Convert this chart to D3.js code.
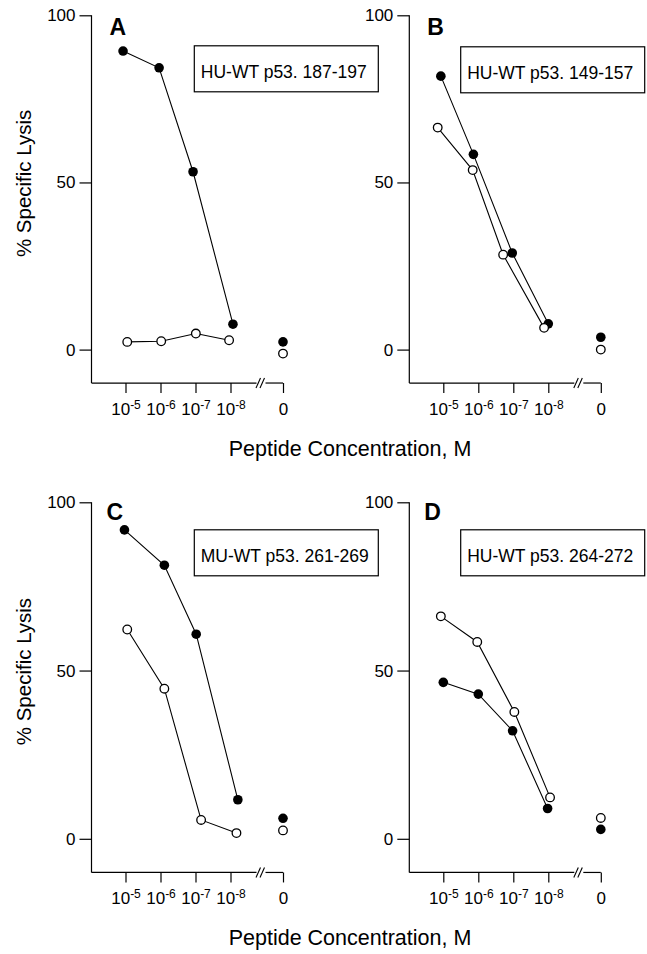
<!DOCTYPE html>
<html>
<head>
<meta charset="utf-8">
<script src="https://cdn.jsdelivr.net/npm/d3@7"></script>
<style>
  html, body { margin: 0; padding: 0; background: #fff; }
  svg { display: block; }
  text { font-family: "Liberation Sans", Arial, Helvetica, sans-serif; fill: #000; }
</style>
</head>
<body>
<svg id="chart" width="647" height="954"></svg>
<script>
// ---------------- DATA ----------------
const panelLetters = ["A", "B", "C", "D"];
const peptideNames = ["HU-WT p53. 187-197", "HU-WT p53. 149-157", "MU-WT p53. 261-269", "HU-WT p53. 264-272"];
const concExponents = [-5, -6, -7, -8];          // tick values: log10 peptide concentration (M)
const tickExpLabels = ["-5", "-6", "-7", "-8"];
const zeroLabel = "0";
const yTicks = [0, 50, 100];

// plotted log10 concentration of each point and % specific lysis
const filledX = [[-4.93, -5.96, -6.93, -8.07], [-4.93, -5.86, -6.97, -8.00], [-4.97, -6.11, -7.02, -8.21], [-5.00, -6.00, -6.98, -7.98]];
const filledY = [[89.3, 84.3, 53.2, 7.6], [81.8, 58.4, 28.9, 7.7], [91.8, 81.3, 60.8, 11.6], [46.5, 43.0, 32.1, 9.0]];
const openX   = [[-5.05, -6.02, -7.01, -7.96], [-4.84, -5.84, -6.71, -7.88], [-5.05, -6.11, -7.16, -8.17], [-4.93, -5.97, -7.03, -8.05]];
const openY   = [[2.3, 2.5, 4.8, 2.8], [66.4, 53.7, 28.4, 6.5], [62.2, 44.6, 5.6, 1.7], [66.1, 58.5, 37.7, 12.3]];
// no-peptide control ("0")
const filledZero = [2.3, 3.7, 6.1, 2.8];
const openZero   = [-1.2, 0.0, 2.5, 6.2];

const xTitle = "Peptide Concentration, M";
const yTitle = "% Specific Lysis";

// ---------------- LAYOUT ----------------
const ZERO_POS = -9.5;          // axis position of the "0" (no peptide) category after the break
const cols = [91.5, 409.3];     // y-axis x position of each column
const rows = [{top: 15.3, zero: 349.6}, {top: 502.3, zero: 838.8}];
const boxOffset = [102.8, 51.4, 102.8, 51.4];  // legend box left relative to y-axis
const boxW = 184, boxH = 46;
const R = 4.8;

const svg = d3.select("#chart");
const FONT = '"Liberation Sans", Arial, Helvetica, sans-serif';

panelLetters.forEach((letter, i) => {
  const col = i % 2, row = Math.floor(i / 2);
  const ox = cols[col];
  const rr = rows[row];
  const y = d3.scaleLinear().domain([0, 100]).range([rr.zero, rr.top]);
  const x = d3.scaleLinear().domain([-5, -8]).range([ox + 34, ox + 139]);
  const bottom = y(-10);
  const g = svg.append("g");

  // y axis
  const ya = g.append("g").attr("transform", `translate(${ox},0)`)
    .call(d3.axisLeft(y).tickValues(yTicks).tickSize(12).tickSizeOuter(0).tickPadding(4));
  ya.select(".domain").remove();
  ya.selectAll(".tick line").attr("stroke", "#000").attr("stroke-width", 1.2);
  ya.selectAll(".tick text").attr("font-family", FONT).attr("font-size", 17).attr("fill", "#000");
  g.append("line").attr("x1", ox).attr("x2", ox).attr("y1", y(100)).attr("y2", bottom)
    .attr("stroke", "#000").attr("stroke-width", 1.2);

  // x axis
  const xa = g.append("g").attr("transform", `translate(0,${bottom})`)
    .call(d3.axisBottom(x).tickValues(concExponents.concat([ZERO_POS])).tickSize(10).tickSizeOuter(0).tickPadding(8));
  xa.select(".domain").remove();
  xa.selectAll(".tick line").attr("stroke", "#000").attr("stroke-width", 1.2);
  xa.selectAll(".tick text").each(function(d) {
    const t = d3.select(this).text(null)
      .attr("font-family", FONT).attr("font-size", 17).attr("fill", "#000")
      .attr("dy", null).attr("y", 32);
    if (d === ZERO_POS) {
      t.text(zeroLabel);
    } else {
      t.append("tspan").text("10");
      t.append("tspan").attr("font-size", 12).attr("dy", -6).text(tickExpLabels[concExponents.indexOf(d)]);
    }
  });
  // axis line with break
  const brk = ox + 170;
  const xEnd = x(ZERO_POS);
  g.append("line").attr("x1", ox).attr("x2", brk - 5).attr("y1", bottom).attr("y2", bottom)
    .attr("stroke", "#000").attr("stroke-width", 1.2);
  g.append("line").attr("x1", brk + 4).attr("x2", xEnd).attr("y1", bottom).attr("y2", bottom)
    .attr("stroke", "#000").attr("stroke-width", 1.2);
  [-4, 0].forEach(dx => {
    g.append("line").attr("x1", brk + dx - 1.5).attr("x2", brk + dx + 3).attr("y1", bottom + 5).attr("y2", bottom - 5)
      .attr("stroke", "#000").attr("stroke-width", 1.1);
  });

  // panel letter
  g.append("text").attr("x", ox + (row === 0 ? 18 : 15)).attr("y", row === 0 ? y(100) + 20 : y(100) + 18)
    .attr("font-size", 23).attr("font-weight", "bold").text(letter);

  // legend box
  const bx = ox + boxOffset[i], by = y(100) + 30.5 + (col === 1 && row === 0 ? 1 : 0) + (row === 1 ? -3 : 0);
  g.append("rect").attr("x", bx).attr("y", by).attr("width", boxW).attr("height", boxH)
    .attr("fill", "#fff").attr("stroke", "#000").attr("stroke-width", 1.2);
  g.append("text").attr("x", bx + 6.5).attr("y", by + 32).attr("font-size", 17.5).text(peptideNames[i]);

  // y title (left column only)
  if (col === 0) {
    g.append("text").attr("transform", `translate(31,${y(50) + 1}) rotate(-90)`)
      .attr("text-anchor", "middle").attr("font-size", 20.5).text(yTitle);
  }

  // series
  const line = d3.line().x(d => x(d[0])).y(d => y(d[1]));
  const fPts = filledX[i].map((v, k) => [v, filledY[i][k]]);
  const oPts = openX[i].map((v, k) => [v, openY[i][k]]);
  g.append("path").attr("d", line(fPts)).attr("fill", "none").attr("stroke", "#000").attr("stroke-width", 1.1);
  g.append("path").attr("d", line(oPts)).attr("fill", "none").attr("stroke", "#000").attr("stroke-width", 1.1);
  g.selectAll(".f").data(fPts.concat([[ZERO_POS, filledZero[i]]])).enter().append("circle")
    .attr("cx", d => x(d[0])).attr("cy", d => y(d[1])).attr("r", R).attr("fill", "#000");
  g.selectAll(".o").data(oPts.concat([[ZERO_POS, openZero[i]]])).enter().append("circle")
    .attr("cx", d => x(d[0])).attr("cy", d => y(d[1])).attr("r", R - 0.5)
    .attr("fill", "#fff").attr("stroke", "#000").attr("stroke-width", 1.3);
});

// x titles
[0, 1].forEach(row => {
  const y0 = rows[row].zero;
  svg.append("text").attr("x", 350).attr("y", y0 + 106.5).attr("text-anchor", "middle")
    .attr("font-size", 21.5).text(xTitle);
});
</script>
</body>
</html>
